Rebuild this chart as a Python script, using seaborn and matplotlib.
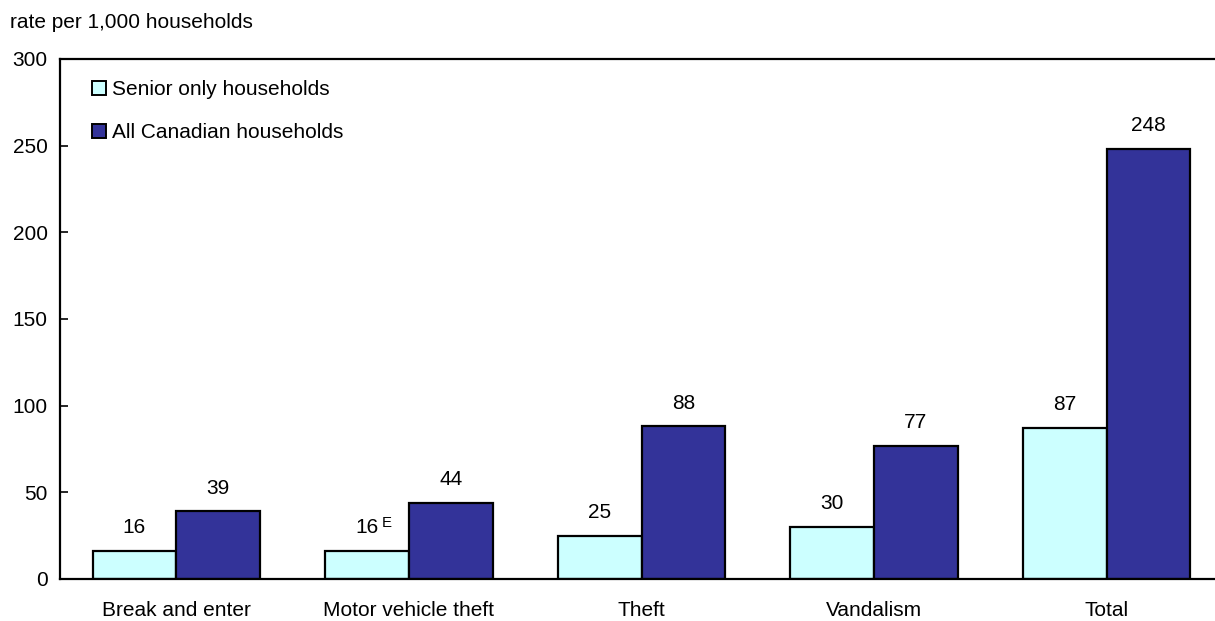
import matplotlib
matplotlib.use("Agg")
import matplotlib.pyplot as plt
from matplotlib.patches import Patch
import seaborn as sns
import pandas as pd

# Household victimization rates, 2004
categories = ["Break and enter", "Motor vehicle theft", "Theft", "Vandalism", "Total"]
senior_only = [16, 16, 25, 30, 87]
all_canadian = [39, 44, 88, 77, 248]
series_names = ["Senior only households", "All Canadian households"]
senior_flags = ["", "E", "", "", ""]
all_flags = ["", "", "", "", ""]
y_ticks = [0, 50, 100, 150, 200, 250, 300]
y_title = "rate per 1,000 households"

colors = ["#CCFFFF", "#333399"]

df = pd.DataFrame({
    "category": categories * 2,
    "rate": senior_only + all_canadian,
    "group": [series_names[0]] * len(categories) + [series_names[1]] * len(categories),
})

sns.set_style("white")
plt.rcParams["font.family"] = ["Liberation Sans", "DejaVu Sans"]
plt.rcParams["text.color"] = "black"
plt.rcParams["xtick.color"] = "black"
plt.rcParams["ytick.color"] = "black"
FS = 15

W, H = 1215, 621
fig = plt.figure(figsize=(W / 100, H / 100), dpi=100)
ax = fig.add_axes([60 / W, (H - 579) / H, (1223 - 60) / W, 520 / H])

sns.barplot(data=df, x="category", y="rate", hue="group", order=categories,
            hue_order=series_names, palette=colors, width=0.72, gap=0,
            edgecolor="black", linewidth=1.6, saturation=1, legend=False, ax=ax)

ax.set_ylim(0, 300)
ax.set_yticks(y_ticks)
ax.set_yticklabels([str(v) for v in y_ticks], fontsize=FS, color="black")
ax.tick_params(axis="y", direction="in", length=6, width=1.2, pad=9, colors="black",
               left=True)
ax.tick_params(axis="x", length=0, pad=16, labelsize=FS, colors="black")
ax.set_xlabel("")
ax.set_ylabel("")
for s in ax.spines.values():
    s.set_visible(True)
    s.set_color("black")
    s.set_linewidth(1.6)

# value labels above each bar
flag_sets = [senior_flags, all_flags]
for container, values, flags in zip(ax.containers, [senior_only, all_canadian], flag_sets):
    for bar, val, flag in zip(container, values, flags):
        cx = bar.get_x() + bar.get_width() / 2
        top = bar.get_height()
        ax.annotate(str(val), xy=(cx, top), xytext=(0, 10), textcoords="offset points",
                    ha="center", va="bottom", fontsize=FS, color="black")
        if flag:
            ax.annotate(flag, xy=(cx, top), xytext=(10.5, 15.5), textcoords="offset points",
                        ha="left", va="bottom", fontsize=FS * 0.72, color="black")

handles = [Patch(facecolor=c, edgecolor="black", linewidth=1.4) for c in colors]
ax.legend(handles, series_names, loc="upper left",
          bbox_to_anchor=((92 - 60) / 1163, (579 - 80) / 520),
          frameon=False, fontsize=FS, handlelength=0.67, handleheight=0.67,
          handletextpad=0.3, labelspacing=1.15, borderpad=0, borderaxespad=0)

fig.text(10 / W, 1 - 22 / H, y_title, fontsize=FS, ha="left", va="center")

fig.savefig("out.png", dpi=100)
